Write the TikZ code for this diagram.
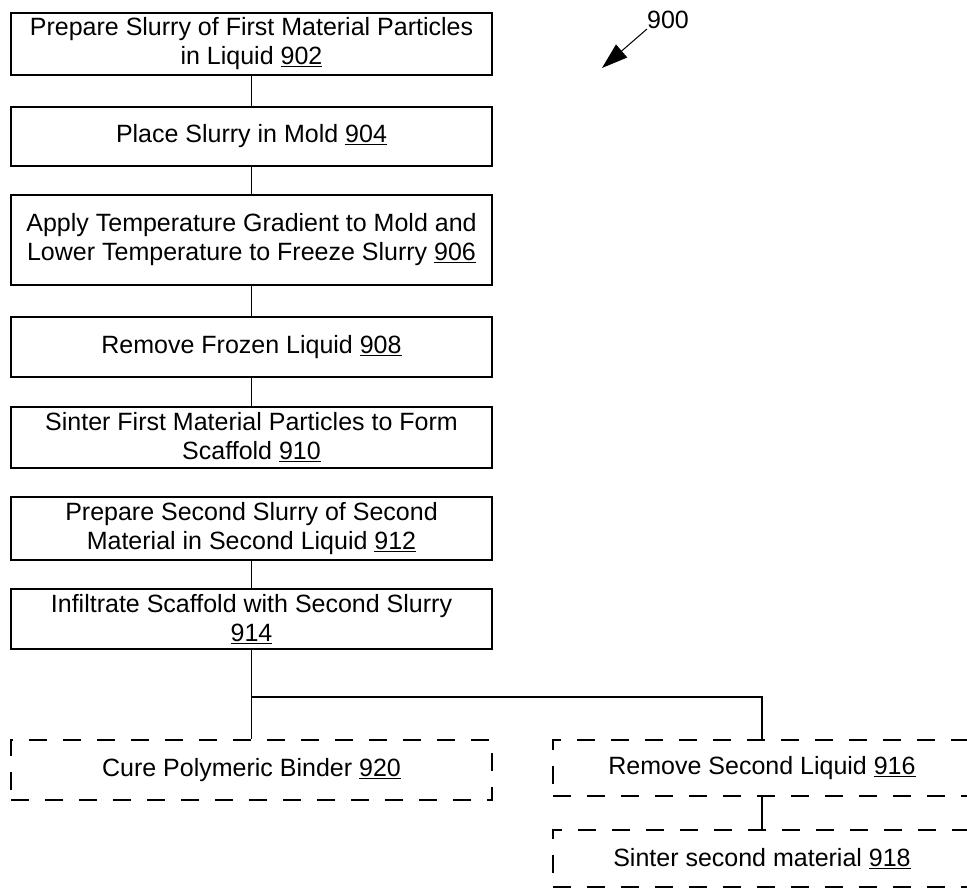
\documentclass[tikz,border=0pt]{standalone}
\usepackage{fontspec}
\setmainfont{Liberation Sans}
\usetikzlibrary{arrows.meta,positioning}

\begin{document}
\begin{tikzpicture}[x=1pt, y=-1pt,
  stepbox/.style={draw, line width=1.3pt, minimum width=481pt, inner sep=0pt,
    align=center, font=\fontsize{25}{29}\selectfont},
  optbox/.style={stepbox, dashed, dash pattern=on 18pt off 16pt},
  link/.style={line width=1.8pt}]
  \useasboundingbox (0,0) rectangle (967,891);
  % main column
  \node[stepbox, minimum height=62pt] (s902) at (251.5,44) {Prepare Slurry of First Material Particles\\in Liquid \underline{902}};
  \node[stepbox, minimum height=59pt] (s904) at (251.5,136.5) {Place Slurry in Mold \underline{904}};
  \node[stepbox, minimum height=90pt] (s906) at (251.5,240) {Apply Temperature Gradient to Mold and\\Lower Temperature to Freeze Slurry \underline{906}};
  \node[stepbox, minimum height=60pt] (s908) at (251.5,347) {Remove Frozen Liquid \underline{908}};
  \node[stepbox, minimum height=61pt] (s910) at (251.5,437.5) {Sinter First Material Particles to Form\\Scaffold \underline{910}};
  \node[stepbox, minimum height=63pt] (s912) at (251.5,528.5) {Prepare Second Slurry of Second\\Material in Second Liquid \underline{912}};
  \node[stepbox, minimum height=60pt] (s914) at (251.5,619) {Infiltrate Scaffold with Second Slurry\\\underline{914}};
  % optional steps
  \node[optbox, minimum height=60pt] (s920) at (251.5,770) {Cure Polymeric Binder \underline{920}};
  \node[optbox, minimum width=418pt, minimum height=56pt] (s916) at (762,768) {Remove Second Liquid \underline{916}};
  \node[optbox, minimum width=418pt, minimum height=57pt] (s918) at (762,858.5) {Sinter second material \underline{918}};
  % connectors
  \draw[link] (s902) -- (s904);
  \draw[link] (s904) -- (s906);
  \draw[link] (s906) -- (s908);
  \draw[link] (s908) -- (s910);
  \draw[link] (s912) -- (s914);
  \draw[link] (s914) -- (s920);
  \coordinate (split) at (251.5,697);
  \draw[link] (split) -| (s916);
  \draw[link] (s916) -- (s918);
  % figure label
  \node[font=\fontsize{25}{29}\selectfont, inner sep=0pt] (fig) at (668,20) {900};
  \coordinate (figtip) at (602,68);
  \draw[line width=1pt, -{Triangle[length=26pt, width=17pt]}] (fig.south west) -- (figtip);
\end{tikzpicture}
\end{document}
